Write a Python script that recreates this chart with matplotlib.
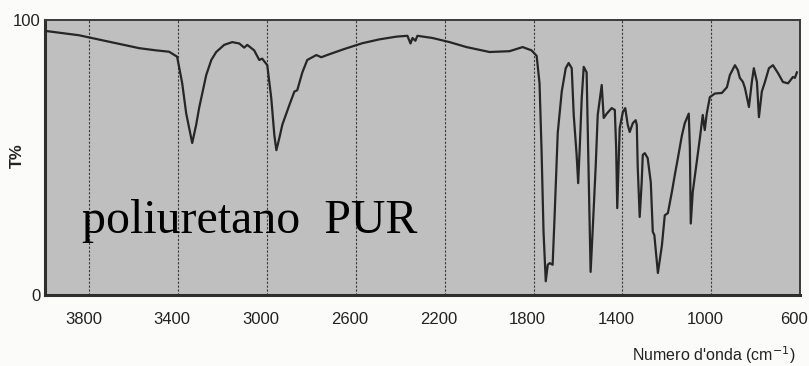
import matplotlib
matplotlib.use("Agg")
import matplotlib.pyplot as plt
import matplotlib.transforms as mtransforms

# IR spectrum of polyurethane: wavenumber (cm^-1) vs transmittance (%)
wavenumber = [
    3991, 3847, 3725, 3576, 3500, 3441, 3405, 3382, 3364, 3337, 3319, 3306,
    3274, 3251, 3229, 3193, 3157, 3125, 3103, 3089, 3058, 3035, 3022, 2999,
    2981, 2967, 2958, 2945, 2931, 2900, 2877, 2864, 2855, 2841, 2819, 2778,
    2756, 2719, 2652, 2571, 2494, 2417, 2368, 2354, 2345, 2332, 2323, 2255,
    2178, 2102, 1998, 1908, 1849, 1809, 1786, 1773, 1764, 1755, 1745, 1736,
    1727, 1714, 1705, 1691, 1673, 1655, 1642, 1628, 1619, 1606, 1599, 1592,
    1583, 1574, 1561, 1554, 1543, 1534, 1520, 1511, 1493, 1484, 1470, 1448,
    1434, 1428, 1423, 1412, 1398, 1387, 1376, 1367, 1353, 1340, 1335, 1331,
    1322, 1313, 1308, 1299, 1286, 1272, 1263, 1256, 1240, 1222, 1209, 1195,
    1177, 1164, 1150, 1132, 1119, 1101, 1096, 1092, 1083, 1065, 1051, 1038,
    1029, 1020, 1006, 983, 952, 929, 916, 893, 880, 871, 857, 848,
    830, 817, 808, 794, 785, 772, 758, 740, 722, 699, 677, 654,
    632, 623, 614,
]
transmittance = [
    96.0, 94.5, 92.4, 89.8, 89.0, 88.5, 86.7, 77.0, 66.0, 55.3, 62.0, 68.0,
    80.0, 85.5, 88.4, 91.0, 92.0, 91.5, 90.0, 91.0, 89.0, 85.5, 86.0, 83.6,
    71.6, 58.0, 52.7, 57.0, 62.0, 69.0, 74.0, 74.5, 77.0, 81.0, 85.5, 87.3,
    86.5, 87.6, 89.5, 91.6, 93.0, 94.0, 94.3, 91.5, 93.5, 92.5, 94.3, 93.5,
    92.0, 90.2, 88.4, 88.7, 90.2, 89.0, 87.0, 77.0, 53.0, 23.0, 5.0, 11.0,
    11.6, 11.0, 29.0, 59.0, 74.0, 82.5, 84.4, 82.5, 65.5, 51.0, 40.7, 53.5,
    71.6, 83.0, 81.0, 53.5, 8.4, 23.0, 47.0, 65.5, 76.4, 64.4, 66.0, 68.0,
    67.3, 53.5, 31.6, 60.7, 66.5, 68.0, 62.0, 59.3, 62.5, 63.6, 61.8, 47.0,
    28.4, 41.0, 51.0, 51.6, 49.8, 41.0, 23.0, 21.8, 8.0, 18.0, 29.0, 29.8,
    37.5, 43.6, 49.8, 58.0, 62.5, 66.0, 53.5, 26.0, 37.5, 48.4, 57.0, 65.5,
    60.0, 66.0, 72.0, 73.3, 73.5, 75.6, 80.0, 83.6, 81.8, 79.0, 77.5, 75.3,
    68.4, 77.5, 82.5, 77.5, 64.7, 74.0, 77.5, 82.5, 83.6, 80.7, 77.5, 77.0,
    79.3, 79.0, 81.0,
]

x_ticks = [3800, 3400, 3000, 2600, 2200, 1800, 1400, 1000, 600]
x_tick_labels = ["3800", "3400", "3000", "2600", "2200", "1800", "1400", "1000", "600"]
y_ticks = [0, 100]
y_tick_labels = ["0", "100"]

plt.rcParams["font.family"] = ["Liberation Sans", "DejaVu Sans"]

fig = plt.figure(figsize=(8.09, 3.66), dpi=100, facecolor="#fbfbf9")
ax = fig.add_axes([0.0556, 0.194, 0.9333, 0.751])
ax.set_facecolor("#bfbfbf")

ax.set_xlim(4000, 600)
ax.set_ylim(0, 100)

# vertical grid lines
for g in x_ticks[:-1]:
    ax.axvline(g, color="#3a3a3a", lw=0.8, ls=(0, (2, 1.5)), zorder=1)

ax.plot(wavenumber, transmittance, color="#262626", lw=1.6, zorder=3,
        solid_joinstyle="round")

ax.set_xticks(x_ticks)
ax.set_xticklabels(x_tick_labels, fontsize=12, color="#222222")
ax.set_yticks(y_ticks)
ax.set_yticklabels(y_tick_labels, fontsize=12, color="#222222")
ax.tick_params(axis="both", length=0, pad=12)
ax.tick_params(axis="y", pad=3)

# shift x labels slightly left of their grid lines
offset = mtransforms.ScaledTranslation(-6 / 100, 0, fig.dpi_scale_trans)
for lbl in ax.get_xticklabels():
    lbl.set_transform(lbl.get_transform() + offset)

for side in ["left", "bottom"]:
    ax.spines[side].set_linewidth(2.2)
    ax.spines[side].set_color("#2e2e2e")
for side in ["top", "right"]:
    ax.spines[side].set_linewidth(1.4)
    ax.spines[side].set_color("#3a3a3a")

ax.text(0.049, 0.225, "poliuretano  PUR", transform=ax.transAxes,
        fontsize=34.5, family="Liberation Serif", color="black", va="baseline",
        ha="left", zorder=4)

fig.text(0.022, 0.575, "T%", rotation=90, fontsize=12, fontweight="bold",
         color="#222222", ha="center", va="center")
fig.text(0.983, 0.03, "Numero d'onda (cm$^{-1}$)", fontsize=11.5,
         color="#222222", ha="right", va="center")

fig.savefig("out.png", dpi=100, facecolor=fig.get_facecolor())
